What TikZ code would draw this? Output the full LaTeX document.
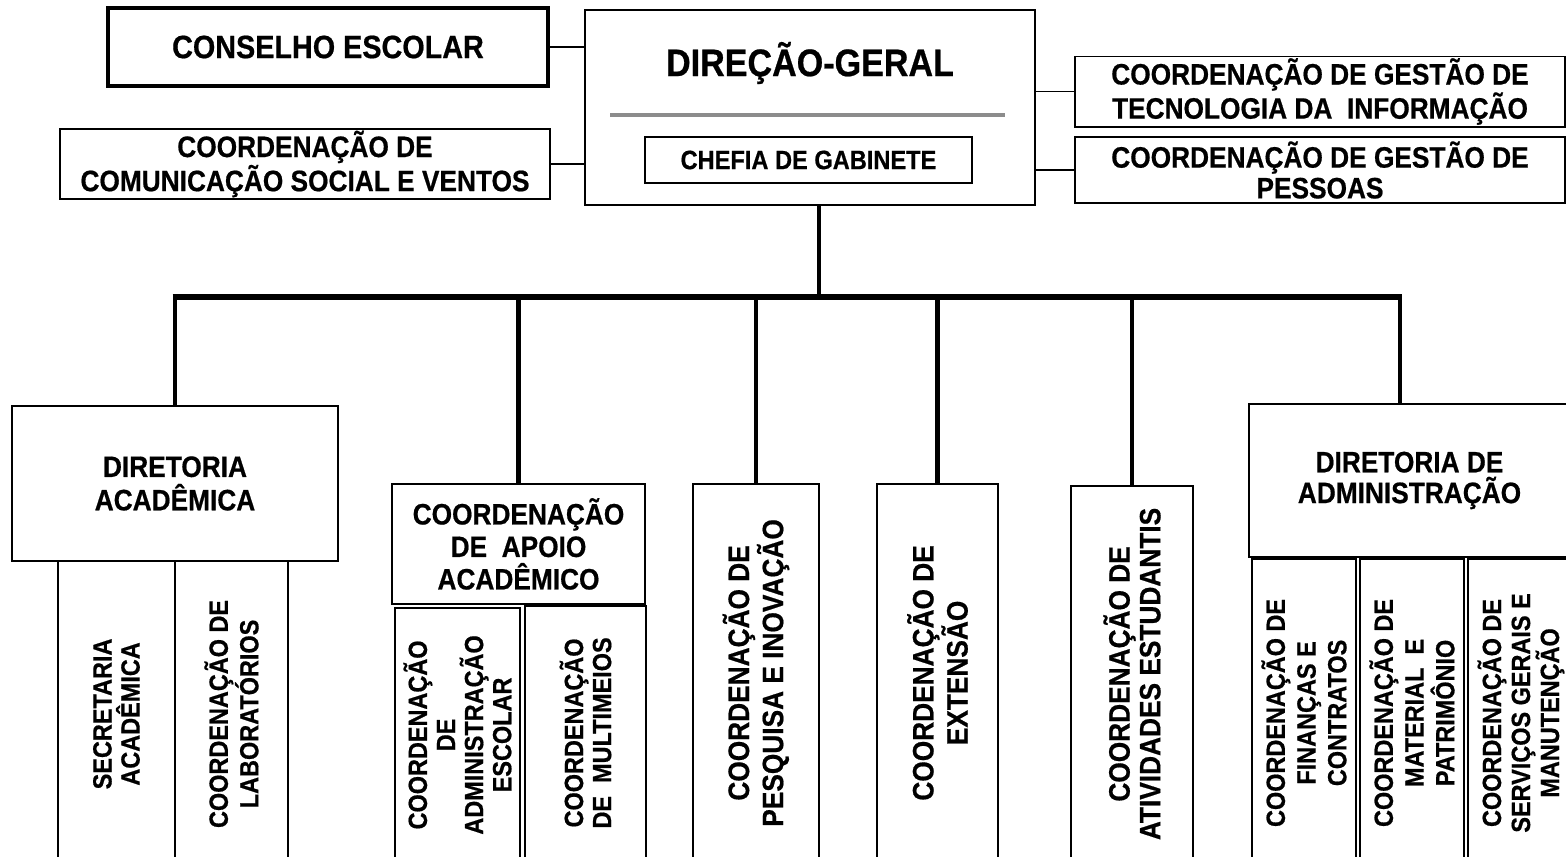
\documentclass[tikz,border=0pt]{standalone}
\usepackage{fontspec}
\setmainfont{Liberation Sans}[FakeStretch=0.89, BoldFeatures={FakeBold=0.6}]
\usetikzlibrary{positioning}

\begin{document}
\begin{tikzpicture}[x=0.02cm, y=-0.02cm,
    box/.style={draw, rectangle, line width=1.1pt, fill=white, inner sep=1pt, align=center, font=\bfseries\fontsize{16.8}{17.5}\selectfont},
    vbox/.style={box, rotate=90, anchor=east},
    smalltext/.style={font=\bfseries\fontsize{15}{16}\selectfont},
    trunk/.style={line width=2.6pt},
    link/.style={line width=1.1pt}]
    \useasboundingbox (0,0) rectangle (1566,856);
    \clip (0,0) rectangle (1566,856);
    \fill[white] (0,0) rectangle (1566,856);

    % Direction
    \node[box, minimum width=90mm, minimum height=39mm] (direcao) at (810,107.5) {};
    \node[font=\bfseries\fontsize{21.8}{24}\selectfont] (dgtitle) at (810,63) {DIREÇÃO-GERAL};
    \draw[line width=2.8pt, black!45] (610,115) -- (1005,115);
    \node[box, font=\bfseries\fontsize{15.1}{16}\selectfont, minimum width=65.4mm, minimum height=9.2mm] (chefia) at (808.5,160) {CHEFIA DE GABINETE};

    % Advisory units
    \node[box, line width=2.4pt, font=\bfseries\fontsize{18.4}{19}\selectfont, minimum width=88mm, minimum height=15.6mm] (conselho) at (328,47) {CONSELHO ESCOLAR};
    \node[box, minimum width=98mm, minimum height=13.6mm] (comunic) at (305,164) {COORDENAÇÃO DE\\COMUNICAÇÃO SOCIAL E VENTOS};
    \node[box, minimum width=98mm, minimum height=13.4mm] (ti) at (1320,91.5) {COORDENAÇÃO DE GESTÃO DE\\TECNOLOGIA DA~~INFORMAÇÃO};
    \node[box, minimum width=98mm, minimum height=13.2mm] (pessoas) at (1320,170) {COORDENAÇÃO DE GESTÃO DE\\PESSOAS};

    \draw[link] (conselho.east) -- (conselho.east -| direcao.west);
    \draw[link] (comunic.east) -- (comunic.east -| direcao.west);
    \draw[link] (ti.west) -- (ti.west -| direcao.east);
    \draw[link] (pessoas.west) -- (pessoas.west -| direcao.east);

    % Directorates and coordinations
    \node[box, anchor=north, font=\bfseries\fontsize{16.8}{19}\selectfont, minimum width=65.2mm, minimum height=31mm] (diracad) at (175,405) {DIRETORIA\\ACADÊMICA};
    \node[vbox, smalltext, minimum width=61.2mm, minimum height=23.4mm] (secret) at (116.5,560) {SECRETARIA\\ACADÊMICA};
    \node[vbox, smalltext, font=\bfseries\fontsize{15}{14.5}\selectfont, minimum width=61.2mm, minimum height=22.6mm] (labs) at (231.5,560) {COORDENAÇÃO DE\\LABORATÓRIOS};

    \node[box, anchor=north, font=\bfseries\fontsize{16.8}{18.5}\selectfont, minimum width=50.6mm, minimum height=24mm] (apoio) at (518.5,483) {COORDENAÇÃO\\DE~~APOIO\\ACADÊMICO};
    \node[vbox, smalltext, minimum width=50.8mm, minimum height=25mm] (admesc) at (457.5,607) {COORDENAÇÃO\\DE\\ADMINISTRAÇÃO\\ESCOLAR};
    \node[vbox, smalltext, minimum width=50.8mm, minimum height=24.2mm] (multi) at (585.5,605) {COORDENAÇÃO\\DE~~MULTIMEIOS};

    \node[vbox, minimum width=75.6mm, minimum height=25.2mm] (pesq) at (756,483) {COORDENAÇÃO DE\\PESQUISA E INOVAÇÃO};
    \node[vbox, minimum width=75.6mm, minimum height=24.2mm] (ext) at (937.5,483) {COORDENAÇÃO DE\\EXTENSÃO};
    \node[vbox, minimum width=75.2mm, minimum height=24.4mm] (ativ) at (1132,485) {COORDENAÇÃO DE\\ATIVIDADES ESTUDANTIS};

    \node[box, anchor=north, minimum width=64.2mm, minimum height=30.6mm] (diradm) at (1409.5,403) {DIRETORIA DE\\ADMINISTRAÇÃO};
    \node[vbox, smalltext, font=\bfseries\fontsize{15}{17.5}\selectfont, minimum width=61.6mm, minimum height=20.8mm] (finan) at (1304,558) {COORDENAÇÃO DE\\FINANÇAS E\\CONTRATOS};
    \node[vbox, smalltext, font=\bfseries\fontsize{15}{17.5}\selectfont, minimum width=61.6mm, minimum height=20.8mm] (mater) at (1412,558) {COORDENAÇÃO DE\\MATERIAL~~E\\PATRIMÔNIO};
    \node[vbox, smalltext, font=\bfseries\fontsize{15}{16.5}\selectfont, minimum width=61.6mm, minimum height=21.2mm] (serv) at (1521,558) {COORDENAÇÃO DE\\SERVIÇOS GERAIS E\\MANUTENÇÃO};

    % Tree
    \coordinate (bus) at (819,297);
    \coordinate (dropR) at (1400,297);
    \draw[trunk] (direcao.south -| bus) -- (bus);
    \draw[line width=3.6pt] ([xshift=-1.3pt]diracad.north |- bus) -- ([xshift=1.3pt]dropR);
    \foreach \n in {diracad,apoio}
        \draw[trunk] (\n.north |- bus) -- (\n.north);
    \foreach \n in {pesq,ext,ativ}
        \draw[trunk] (\n.east |- bus) -- (\n.east);
    \draw[trunk] (dropR) -- (dropR |- diradm.north);
\end{tikzpicture}
\end{document}
